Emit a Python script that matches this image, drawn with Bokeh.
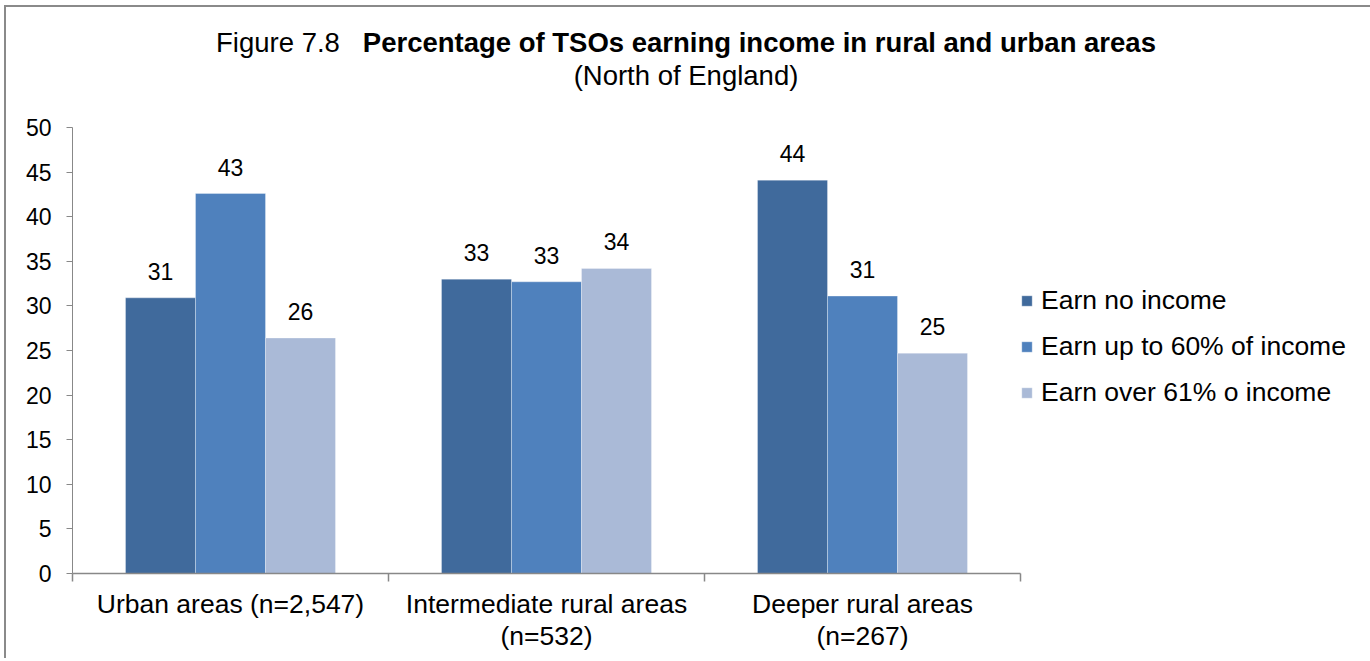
from bokeh.plotting import figure
from bokeh.models import (Range1d, FixedTicker, LinearAxis, Legend, LegendItem,
                          ColumnDataSource, Div, Column)
from bokeh.core.properties import value
from bokeh.embed import file_html
from bokeh.resources import INLINE

categories = ["Urban areas (n=2,547)", "Intermediate rural areas\n(n=532)", "Deeper rural areas\n(n=267)"]
series_names = ["Earn no income", "Earn up to 60% of income", "Earn over 61% o income"]
earn_none = [30.9, 33.0, 44.1]
earn_upto60 = [42.6, 32.7, 31.1]
earn_over61 = [26.4, 34.2, 24.7]
y_ticks = [0, 5, 10, 15, 20, 25, 30, 35, 40, 45, 50]
colors = ["#406A9C", "#4F81BD", "#AABAD7"]
title_prefix = "Figure 7.8"
title_main = "Percentage of TSOs earning income in rural and urban areas"
subtitle = "(North of England)"

FONT = "Liberation Sans"

p = figure(frame_width=948, frame_height=446, min_border_left=66, min_border_top=20,
           min_border_right=346, min_border_bottom=85,
           x_range=Range1d(0, 3), y_range=Range1d(0, 50),
           output_backend="svg", toolbar_location=None, x_axis_location=None,
           y_axis_location=None)
p.grid.visible = False
p.outline_line_color = None
p.background_fill_color = "white"
p.border_fill_color = "white"

bw = 0.2215
series = [earn_none, earn_upto60, earn_over61]
offsets = [-bw, 0.0, bw]
items = []
for vals, off, col, name in zip(series, offsets, colors, series_names):
    src = ColumnDataSource(dict(x=[i + 0.5 + off for i in range(len(categories))], top=vals,
                                lbl=[f"{v:.0f}" for v in vals]))
    r = p.vbar(x="x", top="top", width=bw, bottom=0, source=src, fill_color=col,
               line_color="white", line_alpha=0.3, line_width=1)
    p.text(x="x", y="top", text="lbl", source=src, text_align="center",
           text_baseline="bottom", y_offset=-18, text_font=value(FONT),
           text_font_size="23px", text_color="black")
    items.append(LegendItem(label=name, renderers=[r]))

# y axis
yax = LinearAxis(ticker=FixedTicker(ticks=y_ticks))
yax.axis_line_color = "#888888"
yax.major_tick_line_color = "#888888"
yax.major_tick_in = 0
yax.major_tick_out = 6
yax.minor_tick_line_color = None
yax.major_label_standoff = 15
yax.major_label_text_font = FONT
yax.major_label_text_font_size = "23px"
yax.major_label_text_color = "black"
p.add_layout(yax, "left")

# x axis: category labels at centres, boundary ticks as minor ticks
xax = LinearAxis(ticker=FixedTicker(ticks=[0.5, 1.5, 2.5], minor_ticks=[0, 1, 2, 3]),
                 major_label_overrides={i + 0.5: c for i, c in enumerate(categories)})
xax.axis_line_color = "#888888"
xax.axis_line_width = 1.5
xax.major_tick_line_color = None
xax.major_tick_in = 0
xax.major_tick_out = 0
xax.minor_tick_line_color = "#888888"
xax.minor_tick_line_width = 1.5
xax.minor_tick_in = 0
xax.minor_tick_out = 8
xax.major_label_text_font = FONT
xax.major_label_text_font_size = "26.5px"
xax.major_label_text_color = "black"
xax.major_label_standoff = 7
xax.major_label_text_line_height = 1.08
p.add_layout(xax, "below")

legend = Legend(items=items, location=(0, 165), orientation="vertical",
                glyph_width=13, glyph_height=13, label_height=24, spacing=15,
                label_standoff=8, margin=0, padding=0, border_line_color=None,
                background_fill_alpha=0,
                label_text_font=FONT, label_text_font_size="26.5px",
                label_text_color="black")
p.add_layout(legend, "right")

title_html = (f"{title_prefix}&nbsp;&nbsp;&nbsp;<b>{title_main}</b><br>{subtitle}")
div = Div(text=title_html, width=1360, height=100, margin=(0, 0, 0, 0),
          styles={"font-family": FONT, "font-size": "27.5px", "line-height": "33px",
                  "text-align": "center", "color": "black", "padding-top": "19px",
                  "box-sizing": "border-box", "width": "1360px", "background": "white"})

layout = Column(children=[div, p], spacing=0, margin=(0, 0, 0, 0),
                styles={"border-top": "2px solid #8a8a8a", "border-left": "2px solid #8a8a8a",
                        "border-right": "2px solid #8a8a8a", "margin-left": "4px",
                        "margin-top": "5px", "background": "white"})

open("out.html", "w").write(file_html(layout, INLINE))
